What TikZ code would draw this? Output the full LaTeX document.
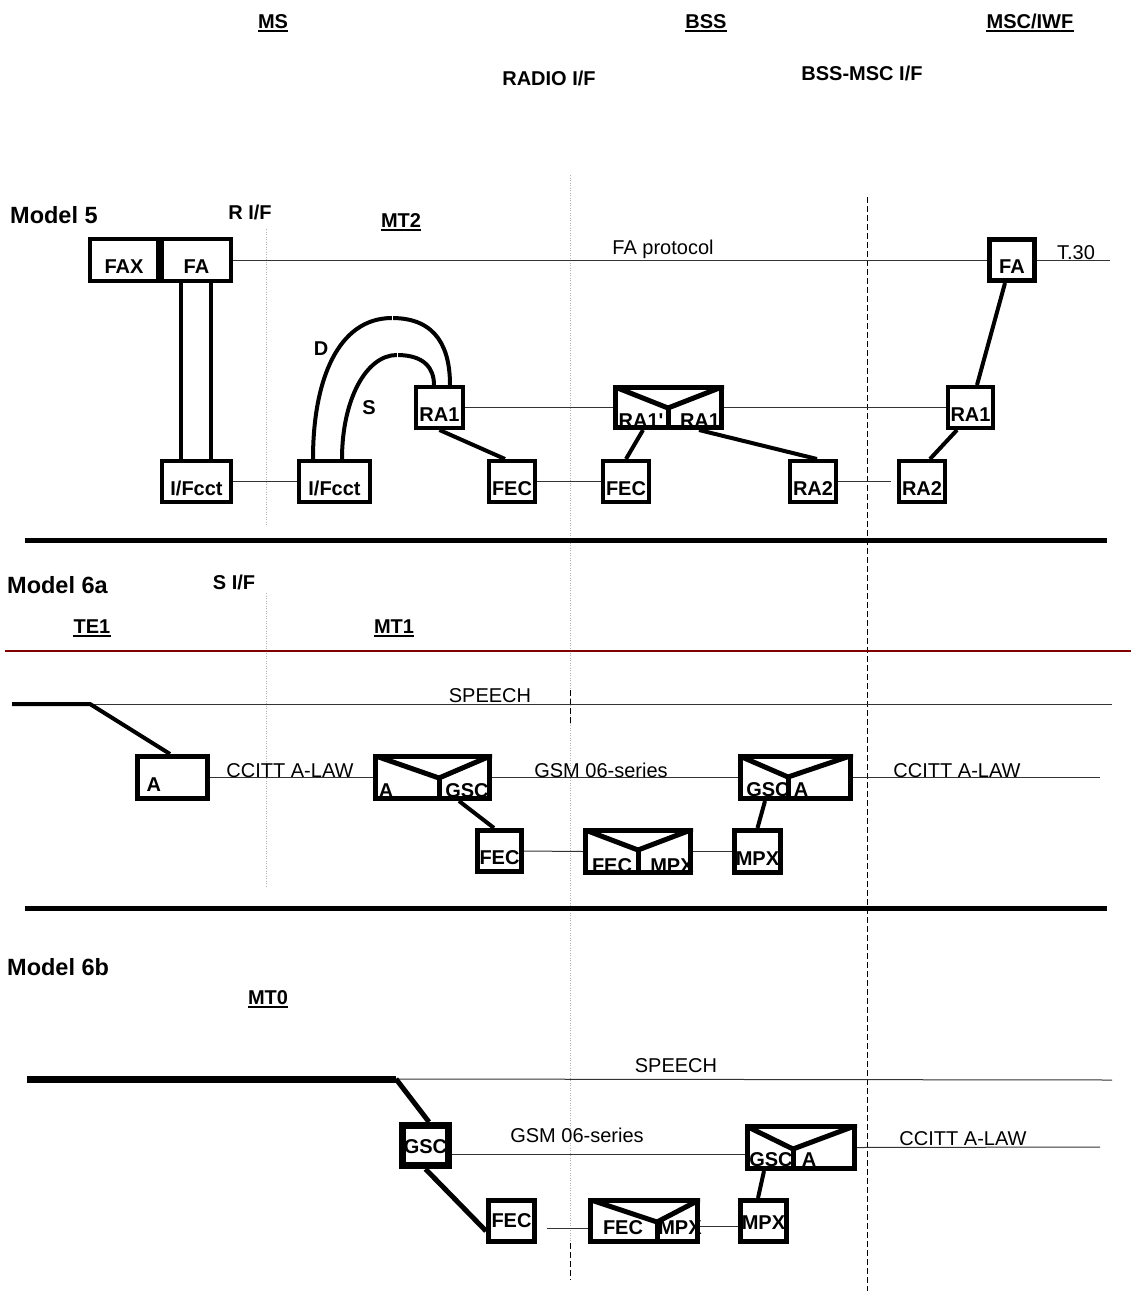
\documentclass[tikz,border=0pt]{standalone}
\usepackage{fontspec}
\setmainfont{Liberation Sans}
\newcommand\fbold{\fontsize{20}{24}\selectfont\bfseries}
\newcommand\freg{\fontsize{20}{24}\selectfont}
\newcommand\fmodel{\fontsize{23.5}{28}\selectfont\bfseries}
\definecolor{darkred}{RGB}{128,0,0}
\newcommand\envvee[2]{%
  \begin{scope}
    \clip (#1.north west) rectangle (#1.south east);
    \draw[vee] ([xshift=-3pt]#1.north west) -- (#2) -- ([xshift=3pt]#1.north east);
    \draw[vee] (#2) -- (#2 |- #1.south);
  \end{scope}}
\begin{document}
\begin{tikzpicture}[x=1pt,y=-1pt,
  bx/.style={draw, fill=white, line width=4pt, inner sep=0pt, text height=34pt, text depth=7pt, font=\fbold},
  env/.style={draw, fill=white, line width=5pt, inner sep=0pt},
  lab/.style={inner sep=0pt, anchor=base, font=\fbold},
  rlab/.style={inner sep=0pt, anchor=base, font=\freg},
  thinl/.style={line width=1pt, black!80},
  thk/.style={line width=4pt},
  vee/.style={line width=5pt, line join=miter},
  dotl/.style={line width=0.8pt, gray!60, dash pattern=on 1pt off 1.5pt},
  dashl/.style={line width=1pt, black, dash pattern=on 6pt off 3pt},
  sepl/.style={line width=5pt},
  ulin/.style={line width=2pt}
]
\useasboundingbox (0,0) rectangle (1131,1291);

% ---------- interface lines ----------
\draw[dotl] (266,229) -- (266,525);
\draw[dotl] (266,593) -- (266,888);
\draw[dotl] (570,175) -- (570,1243);
\draw[dashl] (570,690) -- (570,723);
\draw[dashl] (570,1243) -- (570,1280);
\draw[dashl] (867,197) -- (867,1291);

% ---------- header ----------
\node[lab] (ms) at (273,28) {MS};
\node[lab] (bss) at (706,28) {BSS};
\node[lab] (msc) at (1030,28) {MSC/IWF};
\node[lab] (radio) at (549,85) {RADIO I/F};
\node[lab] (bssmsc) at (862,80) {BSS-MSC I/F};
\foreach \n in {ms,bss,msc}
  \draw[ulin] ([yshift=-3pt]\n.base west) -- ([yshift=-3pt]\n.base east);

% ---------- separators ----------
\draw[sepl] (25,540) -- (1107,540);
\draw[sepl] (25,908) -- (1107,908);
\draw[line width=2pt, darkred] (5,651) -- (1131,651);

% ================= Model 5 =================
\node[lab, anchor=base west, font=\fmodel] (m5) at (10,223) {Model 5};
\node[lab] (rif) at (250,219) {R I/F};
\node[lab] (mt2) at (401,227) {MT2};
\draw[ulin] ([yshift=-3pt]mt2.base west) -- ([yshift=-3pt]mt2.base east);

\node[bx, minimum width=68pt, minimum height=42pt] (fax) at (124,260) {FAX};
\node[bx, minimum width=69pt, minimum height=42pt] (fa) at (196.5,260) {FA};
\node[bx, minimum width=69pt, minimum height=41pt] (ifc1) at (196.5,481.5) {I/Fcct};
\node[bx, minimum width=71pt, minimum height=41pt] (ifc2) at (334.5,481.5) {I/Fcct};
\node[bx, minimum width=47pt, minimum height=41pt] (ra1a) at (439.5,407.5) {RA1};
\node[bx, minimum width=46pt, minimum height=41pt] (fec1) at (512,481.5) {FEC};
\node[bx, minimum width=46pt, minimum height=41pt] (fec2) at (626,481.5) {FEC};
\node[env, minimum width=106pt, minimum height=40pt] (env1) at (668.5,407.5) {};
\node[bx, minimum width=46pt, minimum height=41pt] (ra2a) at (813,481.5) {RA2};
\node[bx, minimum width=46pt, minimum height=41pt] (ra2b) at (922,481.5) {RA2};
\node[bx, minimum width=45pt, minimum height=41pt] (ra1b) at (970.5,407.5) {RA1};
\node[bx, line width=5pt, minimum width=45pt, minimum height=41pt] (fab) at (1012,260) {FA};

\coordinate (v1) at (668,408);
\envvee{env1}{v1}
\node[lab] (l1a) at (641,427) {RA1\textquotesingle};
\node[lab] (l1b) at (700,427) {RA1};

\draw[thinl] (fa.east) -- (fab.west);
\node[rlab] (faprot) at (663,254) {FA protocol};
\coordinate (t30end) at (1110,260);
\draw[thinl] (fab.east) -- (t30end);
\node[rlab] (t30) at (1076,259) {T.30};

\draw[thk] ([xshift=-15.5pt]fa.south) -- ([xshift=-15.5pt]ifc1.north);
\draw[thk] ([xshift=14.5pt]fa.south) -- ([xshift=14.5pt]ifc1.north);
\draw[thinl] (ifc1.east) -- (ifc2.west);

\draw[thk] ([xshift=-21.5pt]ifc2.north) .. controls (313,380) and (338,318) .. (392,318)
  .. controls (438,318) and (450,350) .. ([xshift=10.5pt]ra1a.north);
\draw[thk] ([xshift=7.5pt]ifc2.north) .. controls (342,400) and (366,355) .. (397,355)
  .. controls (424,355) and (434,368) .. ([xshift=-5.5pt]ra1a.north);
\draw[white, line width=1pt] (392,314) -- (392,322);
\draw[white, line width=1pt] (397,351) -- (397,359);
\node[lab] (dl) at (321,355) {D};
\node[lab] (sl) at (369,414) {S};

\draw[thinl] (ra1a.east) -- (env1.west);
\draw[thk] (ra1a.south) -- ([xshift=-7pt]fec1.north);
\draw[thinl] (fec1.east) -- (fec2.west);
\draw[thk] ([xshift=-25.5pt]env1.south) -- (fec2.north);
\draw[thk] ([xshift=30.5pt]env1.south) -- ([xshift=4pt]ra2a.north);
\draw[thinl] (env1.east) -- (ra1b.west);
\coordinate (r2end) at (891,481.5);
\draw[thinl] (ra2a.east) -- (r2end);
\draw[thk] ([xshift=-7pt]fab.south) -- ([xshift=6.5pt]ra1b.north);
\draw[thk] ([xshift=-13.5pt]ra1b.south) -- ([xshift=8pt]ra2b.north);

% ================= Model 6a =================
\node[lab, anchor=base west, font=\fmodel] (m6a) at (7,593) {Model 6a};
\node[lab] (sif) at (234,589) {S I/F};
\node[lab] (te1) at (92,633) {TE1};
\node[lab] (mt1) at (394,633) {MT1};
\foreach \n in {te1,mt1}
  \draw[ulin] ([yshift=-3pt]\n.base west) -- ([yshift=-3pt]\n.base east);

\coordinate (sa0) at (12,704);
\coordinate (sa1) at (90,704);
\coordinate (sa2) at (1112,704);
\draw[thinl] (sa1) -- (sa2);
\node[rlab] (sp1) at (490,702) {SPEECH};

\node[bx, line width=5pt, minimum width=70pt, minimum height=42pt, text width=52pt, align=left] (boxa) at (172.5,777.5) {A};
\node[env, minimum width=114pt, minimum height=42pt] (env2) at (432.5,777.5) {};
\node[bx, line width=5pt, minimum width=44pt, minimum height=41pt] (fec3) at (499.5,851) {FEC};
\node[env, minimum width=105pt, minimum height=42pt] (env3) at (638,851.5) {};
\node[bx, line width=5pt, minimum width=46pt, minimum height=42pt] (mpx3) at (757.5,851.5) {MPX};
\node[env, minimum width=110pt, minimum height=42pt] (env4) at (795.5,777.5) {};

\draw[thk] (sa0) -- (sa1) -- ([xshift=-2.5pt]boxa.north);

\coordinate (v2) at (439,778);
\envvee{env2}{v2}
\node[lab] (l2a) at (386,797) {A};
\node[lab] (l2b) at (467,797) {GSC};

\coordinate (v3) at (638,850);
\envvee{env3}{v3}
\node[lab] (l3a) at (612,872) {FEC};
\node[lab] (l3b) at (672,872) {MPX};

\coordinate (v4) at (788,777);
\envvee{env4}{v4}
\node[lab] (l4a) at (768,796) {GSC};
\node[lab] (l4b) at (801,796) {A};

\draw[thinl] (boxa.east) -- (env2.west);
\node[rlab] (cc1) at (290,777) {CCITT A-LAW};
\draw[thinl] (env2.east) -- (env4.west);
\node[rlab] (gsm1) at (601,777) {GSM 06-series};
\coordinate (cc2end) at (1100,777.5);
\draw[thinl] (env4.east) -- (cc2end);
\node[rlab] (cc2) at (957,777) {CCITT A-LAW};

\draw[thk] ([xshift=26.5pt]env2.south) -- ([xshift=-5.5pt]fec3.north);
\draw[thinl] (fec3.east) -- (env3.west);
\draw[thinl] (env3.east) -- (mpx3.west);
\draw[thk] ([xshift=-30.5pt]env4.south) -- (mpx3.north);

% ================= Model 6b =================
\node[lab, anchor=base west, font=\fmodel] (m6b) at (7,975) {Model 6b};
\node[lab] (mt0) at (268,1004) {MT0};
\draw[ulin] ([yshift=-3pt]mt0.base west) -- ([yshift=-3pt]mt0.base east);

\coordinate (sb0) at (27,1079);
\coordinate (sb1) at (396,1079);
\coordinate (sb2) at (1112,1080);
\draw[thinl] (sb1) -- (sb2);
\node[rlab] (sp2) at (676,1072) {SPEECH};

\node[bx, line width=7pt, minimum width=46pt, minimum height=40pt, text height=27pt, text depth=12pt] (gsc) at (425.5,1145.5) {GSC};
\node[bx, line width=5pt, minimum width=46pt, minimum height=41pt, text height=26pt, text depth=14pt] (fec4) at (511.5,1221) {FEC};
\node[env, minimum width=107pt, minimum height=41pt] (env5) at (644,1221) {};
\node[bx, line width=5pt, minimum width=46pt, minimum height=41pt, text height=28pt, text depth=12pt] (mpx4) at (763.5,1221) {MPX};
\node[env, minimum width=107pt, minimum height=42pt] (env6) at (801,1147.5) {};

\draw[line width=7pt] (sb0) -- (sb1);
\draw[line width=5pt] (sb1) -- ([xshift=3.5pt]gsc.north);
\draw[line width=5pt] (gsc.south) -- ([yshift=-10pt]fec4.west);

\coordinate (v5) at (657,1222);
\envvee{env5}{v5}
\node[lab] (l5a) at (623,1234) {FEC};
\node[lab] (l5b) at (680,1234) {MPX};

\coordinate (v6) at (793,1149);
\envvee{env6}{v6}
\node[lab] (l6a) at (771,1166) {GSC};
\node[lab] (l6b) at (809,1166) {A};

\draw[thinl] ([yshift=-8.5pt]gsc.east) -- ([yshift=-6.5pt]env6.west);
\node[rlab] (gsm2) at (577,1142) {GSM 06-series};
\coordinate (f4s) at (547,1228);
\draw[thinl] (f4s) -- ([yshift=-7pt]env5.west);
\draw[thinl] ([yshift=-5pt]env5.east) -- ([yshift=-5pt]mpx4.west);
\draw[thk] ([xshift=-37pt]env6.south) -- ([xshift=-5.5pt]mpx4.north);
\coordinate (cc3end) at (1100,1147);
\draw[thinl] (env6.east) -- (cc3end);
\node[rlab] (cc3) at (963,1145) {CCITT A-LAW};

\end{tikzpicture}
\end{document}
